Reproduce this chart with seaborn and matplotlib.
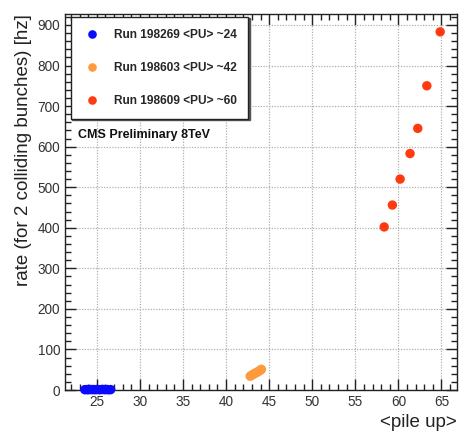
## Trigger rate vs pile-up for three CMS runs (8 TeV), ROOT-like style
import pandas as pd
import numpy as np
import matplotlib
matplotlib.use("Agg")
import matplotlib.pyplot as plt
from matplotlib.ticker import MultipleLocator
import seaborn as sns

run_labels = ["Run 198269 <PU> ~24", "Run 198603 <PU> ~42", "Run 198609 <PU> ~60"]
run_colors = ["#0a0aff", "#ff9a3c", "#ff3a10"]

pu_198269 = [23.6, 23.8, 24.0, 24.2, 24.4, 24.6, 24.8, 25.0, 25.2, 25.4, 25.6, 25.8, 26.0, 26.2, 26.4, 26.6]
rate_198269 = [0.8, 1.1, 0.6, 1.4, 0.9, 1.2, 0.7, 1.3, 1.0, 0.8, 1.5, 1.1, 0.9, 1.2, 0.7, 1.0]

pu_198603 = [42.8, 42.95, 43.1, 43.25, 43.4, 43.55, 43.7, 43.85, 44.0, 44.1]
rate_198603 = [34, 36, 38, 40, 41.5, 43.5, 45, 47, 49, 51]

pu_198609 = [58.35, 59.3, 60.2, 61.35, 62.25, 63.3, 64.85]
rate_198609 = [402, 456, 520, 583, 645, 750, 883]

df = pd.DataFrame({
    "pu": pu_198269 + pu_198603 + pu_198609,
    "rate": rate_198269 + rate_198603 + rate_198609,
    "run": [run_labels[0]] * len(pu_198269) + [run_labels[1]] * len(pu_198603)
           + [run_labels[2]] * len(pu_198609),
})

sns.set_style("ticks")
plt.rcParams["font.family"] = ["Liberation Sans", "DejaVu Sans"]

fig = plt.figure(figsize=(4.59, 4.33), dpi=100)
ax = fig.add_axes([0.1416, 0.0993, 0.854, 0.8684])

sns.scatterplot(data=df, x="pu", y="rate", hue="run", hue_order=run_labels,
                palette=run_colors, s=46, linewidth=0, ax=ax, clip_on=False, zorder=3)

ax.set_xlim(21.3, 66.8)
ax.set_ylim(0, 927)
ax.xaxis.set_major_locator(MultipleLocator(5))
ax.xaxis.set_minor_locator(MultipleLocator(1))
ax.yaxis.set_major_locator(MultipleLocator(100))
ax.yaxis.set_minor_locator(MultipleLocator(20))

ax.tick_params(which="both", direction="in", top=True, right=True, colors="#222222",
               labelcolor="#333333", labelsize=9.8, width=1)
ax.tick_params(which="major", length=8, pad=3.5)
ax.tick_params(which="minor", length=4)
for sp in ax.spines.values():
    sp.set_color("#222222")
    sp.set_linewidth(1)

ax.grid(True, which="major", color="#b0b0b0", linestyle=(0, (1, 1.2)), linewidth=0.9)
ax.set_axisbelow(True)

ax.set_xlabel("<pile up>", loc="right", fontsize=13.5, color="#222222", labelpad=4)
ax.set_ylabel("rate (for 2 colliding bunches) [hz]", loc="top", fontsize=13.5,
              color="#222222", labelpad=4)

handles, labels = ax.get_legend_handles_labels()
for h in handles:
    h.set_markersize(6.2)
leg = ax.legend(handles, labels, loc="upper left", bbox_to_anchor=(0.0153, 0.992),
                borderaxespad=0, frameon=True, fancybox=False,
                shadow={"color": "#555555", "alpha": 1.0, "ox": 1, "oy": -1},
                prop={"weight": "bold", "size": 8.6}, borderpad=1.0,
                handlelength=1.56, handletextpad=1.0, labelspacing=1.75)
leg.get_frame().set_edgecolor("#222222")
leg.get_frame().set_linewidth(1)
leg.get_frame().set_alpha(1)

ax.text(0.033, 0.678, "CMS Preliminary 8TeV", transform=ax.transAxes,
        fontsize=9, fontweight="bold", color="#111111", va="center", ha="left")

plt.savefig("out.png", dpi=100)
